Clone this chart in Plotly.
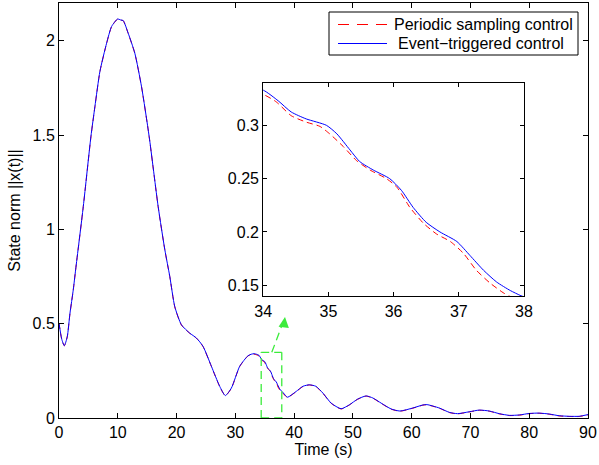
import plotly.graph_objects as go

# Event-triggered control (blue, solid)
event_t = [0, 0.45, 0.9, 1.4, 1.87, 2.43, 2.83, 4.13, 5.43, 6.11, 6.96, 8.1, 8.94, 9.96, 10.5,
           10.92, 11.77, 12.9, 14.04, 15.34, 16.87, 18.0, 18.85, 19.7, 20.83, 22.24, 23.38,
           24.5, 25.93, 27.34, 28.3, 29.33, 30.74, 32.15, 32.7, 33.2, 33.6,
           34.0, 34.23, 34.43, 34.66, 34.97, 35.13, 35.33, 35.48, 35.69, 35.94, 36.12, 36.3,
           36.5, 36.71, 36.97, 37.17, 37.38, 37.58, 37.79, 37.94, 38.0,
           38.66, 38.9, 40.36, 41.5, 42.6, 43.7, 44.9, 46.3, 48.0, 49.4, 50.8, 52.25, 53.4,
           54.8, 56.5, 58.0, 60.2, 61.9, 62.6, 64.7, 66.4, 67.8, 69.8, 71.5, 73.2, 74.9,
           76.6, 78.3, 80.0, 81.7, 83.4, 85.1, 86.8, 88.5, 90.0]
event_y = [0.503, 0.42, 0.383, 0.43, 0.556, 0.68, 0.786, 1.121, 1.492, 1.651, 1.837, 1.987, 2.075, 2.115, 2.11,
           2.107, 2.04, 1.934, 1.757, 1.492, 1.121, 0.893, 0.75, 0.59, 0.494, 0.45, 0.424,
           0.38, 0.274, 0.168, 0.119, 0.159, 0.274, 0.33, 0.338, 0.341, 0.338,
           0.333, 0.323, 0.3125, 0.306, 0.300, 0.292, 0.277, 0.266, 0.258, 0.25, 0.239, 0.223,
           0.209, 0.2, 0.191, 0.178, 0.164, 0.153, 0.145, 0.1405, 0.139,
           0.115, 0.11, 0.141, 0.168, 0.176, 0.168, 0.132, 0.079, 0.049, 0.070, 0.1, 0.117, 0.106,
           0.079, 0.048, 0.037, 0.053, 0.069, 0.071, 0.053, 0.03, 0.023, 0.033, 0.042, 0.037, 0.023,
           0.014, 0.016, 0.024, 0.026, 0.021, 0.012, 0.009, 0.009, 0.018]

# Periodic sampling control (red, dashed)
periodic_t = [0, 0.45, 0.9, 1.4, 1.87, 2.43, 2.83, 4.13, 5.43, 6.11, 6.96, 8.1, 8.94, 9.96, 10.5,
              10.92, 11.77, 12.9, 14.04, 15.34, 16.87, 18.0, 18.85, 19.7, 20.83, 22.24, 23.38,
              24.5, 25.93, 27.34, 28.3, 29.33, 30.74, 32.15, 32.7, 33.2, 33.6,
              34.0, 34.2, 34.43, 34.66, 34.87, 35.02, 35.23, 35.43, 35.64, 35.89, 36.05, 36.25,
              36.46, 36.66, 36.87, 37.07, 37.27, 37.48, 37.68, 37.8, 38.0,
              38.66, 38.9, 40.36, 41.5, 42.6, 43.7, 44.9, 46.3, 48.0, 49.4, 50.8, 52.25, 53.4,
              54.8, 56.5, 58.0, 60.2, 61.9, 62.6, 64.7, 66.4, 67.8, 69.8, 71.5, 73.2, 74.9,
              76.6, 78.3, 80.0, 81.7, 83.4, 85.1, 86.8, 88.5, 90.0]
periodic_y = [0.503, 0.42, 0.383, 0.43, 0.555, 0.679, 0.785, 1.12, 1.49, 1.65, 1.836, 1.986, 2.074, 2.114, 2.109,
              2.106, 2.039, 1.933, 1.756, 1.491, 1.12, 0.892, 0.749, 0.589, 0.493, 0.449, 0.423,
              0.379, 0.273, 0.167, 0.118, 0.158, 0.273, 0.329, 0.336, 0.338, 0.335,
              0.329, 0.322, 0.309, 0.303, 0.299, 0.292, 0.28, 0.267, 0.258, 0.25, 0.242, 0.223,
              0.208, 0.198, 0.191, 0.18, 0.164, 0.152, 0.143, 0.139, 0.134,
              0.113, 0.109, 0.14, 0.167, 0.175, 0.167, 0.131, 0.078, 0.048, 0.069, 0.099, 0.116, 0.105,
              0.078, 0.047, 0.036, 0.052, 0.068, 0.07, 0.052, 0.029, 0.022, 0.032, 0.041, 0.036, 0.022,
              0.013, 0.015, 0.023, 0.025, 0.02, 0.011, 0.008, 0.008, 0.017]

series_names = ["Periodic sampling control", "Event\u2212triggered control"]
series_colors = ["red", "blue"]

main_xticks = [0, 10, 20, 30, 40, 50, 60, 70, 80, 90]
main_yticks = [0, 0.5, 1, 1.5, 2]
main_yticklabels = ["0", "0.5", "1", "1.5", "2"]
inset_xticks = [34, 35, 36, 37, 38]
inset_yticks = [0.15, 0.2, 0.25, 0.3]
inset_yticklabels = ["0.15", "0.2", "0.25", "0.3"]

# zoom-box marker (data coordinates)
box_x0, box_x1, box_y0, box_y1 = 34.4, 37.9, 0.0, 0.348
arrow_from = (36.2, 0.348)
arrow_to = (38.45, 0.535)

FONT = "Liberation Sans, Arial, Helvetica, sans-serif"
FS = 16
GREEN = "rgb(60,235,60)"
RED_DASH = "6px,4px"

W, H = 599, 465
ML, MR, MT, MB = 59, 11, 3, 47
PW, PH = W - ML - MR, H - MT - MB


def px(xp):
    return (xp - ML) / PW


def py(yp):
    return (H - MB - yp) / PH


fig = go.Figure()
fig.add_trace(go.Scatter(x=periodic_t, y=periodic_y, mode="lines", name=series_names[0],
                         line=dict(color=series_colors[0], width=1, dash=RED_DASH,
                                   shape="spline", smoothing=0.6)))
fig.add_trace(go.Scatter(x=event_t, y=event_y, mode="lines", name=series_names[1],
                         line=dict(color=series_colors[1], width=1, shape="spline", smoothing=0.6)))
fig.add_trace(go.Scatter(x=periodic_t, y=periodic_y, mode="lines", showlegend=False,
                         xaxis="x2", yaxis="y2",
                         line=dict(color=series_colors[0], width=1, dash=RED_DASH,
                                   shape="spline", smoothing=0.6)))
fig.add_trace(go.Scatter(x=event_t, y=event_y, mode="lines", showlegend=False,
                         xaxis="x2", yaxis="y2",
                         line=dict(color=series_colors[1], width=1, shape="spline", smoothing=0.6)))

# green dashed zoom box and arrow
for (xa, ya, xb, yb) in [(box_x0, box_y0, box_x0, box_y1), (box_x0, box_y1, box_x1, box_y1),
                         (box_x1, box_y1, box_x1, box_y0), (box_x0, box_y0, box_x1, box_y0)]:
    fig.add_shape(type="line", x0=xa, y0=ya, x1=xb, y1=yb, xref="x", yref="y",
                  line=dict(color=GREEN, width=1.3, dash="8px,5px"))
fig.add_shape(type="line", x0=arrow_from[0], y0=arrow_from[1], x1=arrow_to[0], y1=arrow_to[1],
              xref="x", yref="y", line=dict(color=GREEN, width=1.3, dash="8px,5px"))
fig.add_annotation(x=arrow_to[0], y=arrow_to[1], ax=arrow_to[0] - 0.12, ay=arrow_to[1] - 0.03,
                   xref="x", yref="y", axref="x", ayref="y", text="", showarrow=True,
                   arrowhead=2, arrowsize=1.6, arrowwidth=1.3, arrowcolor=GREEN)

# legend box (MATLAB style)
lg_left, lg_right, lg_top, lg_bottom = 329, 578, 12, 55
row_y = [24.5, 43.5]
row_text_x = [392, 396]
fig.add_shape(type="rect", xref="paper", yref="paper", x0=px(lg_left), x1=px(lg_right),
              y0=py(lg_bottom), y1=py(lg_top), line=dict(color="black", width=1),
              fillcolor="white", layer="above")
for i, (name, col) in enumerate(zip(series_names, series_colors)):
    fig.add_shape(type="line", xref="paper", yref="paper", x0=px(338), x1=px(387),
                  y0=py(row_y[i]), y1=py(row_y[i]), layer="above",
                  line=dict(color=col, width=1, dash="11px,8px" if i == 0 else "solid"))
    fig.add_annotation(xref="paper", yref="paper", x=px(row_text_x[i]), y=py(row_y[i]), text=name,
                       showarrow=False, xanchor="left", yanchor="middle",
                       font=dict(family=FONT, size=FS, color="black"))

axis_common = dict(showline=True, linecolor="black", linewidth=1, mirror="ticks", ticks="inside",
                   tickcolor="black", showgrid=False, zeroline=False,
                   tickfont=dict(family=FONT, size=FS, color="black"))

fig.update_layout(
    width=W, height=H,
    margin=dict(l=ML, r=MR, t=MT, b=MB),
    paper_bgcolor="white", plot_bgcolor="white",
    font=dict(family=FONT, size=FS, color="black"),
    xaxis=dict(range=[0, 90], tickvals=main_xticks, ticklen=5,
               title=dict(text="Time (s)", standoff=2, font=dict(family=FONT, size=FS)),
               **axis_common),
    yaxis=dict(range=[0, 2.2], tickvals=main_yticks, ticktext=main_yticklabels, ticklen=5,
               title=dict(text="State norm ||x(t)||", standoff=7, font=dict(family=FONT, size=FS)),
               **axis_common),
    xaxis2=dict(domain=[0.386, 0.879], anchor="y2", range=[34, 38], tickvals=inset_xticks, ticklen=4,
                **axis_common),
    yaxis2=dict(domain=[0.293, 0.808], anchor="x2", range=[0.1395, 0.34], tickvals=inset_yticks,
                ticktext=inset_yticklabels, ticklen=4, **axis_common),
    showlegend=False,
)

fig.write_html("out.html", config={"displayModeBar": False},
               post_script="document.body.style.margin='0';")
